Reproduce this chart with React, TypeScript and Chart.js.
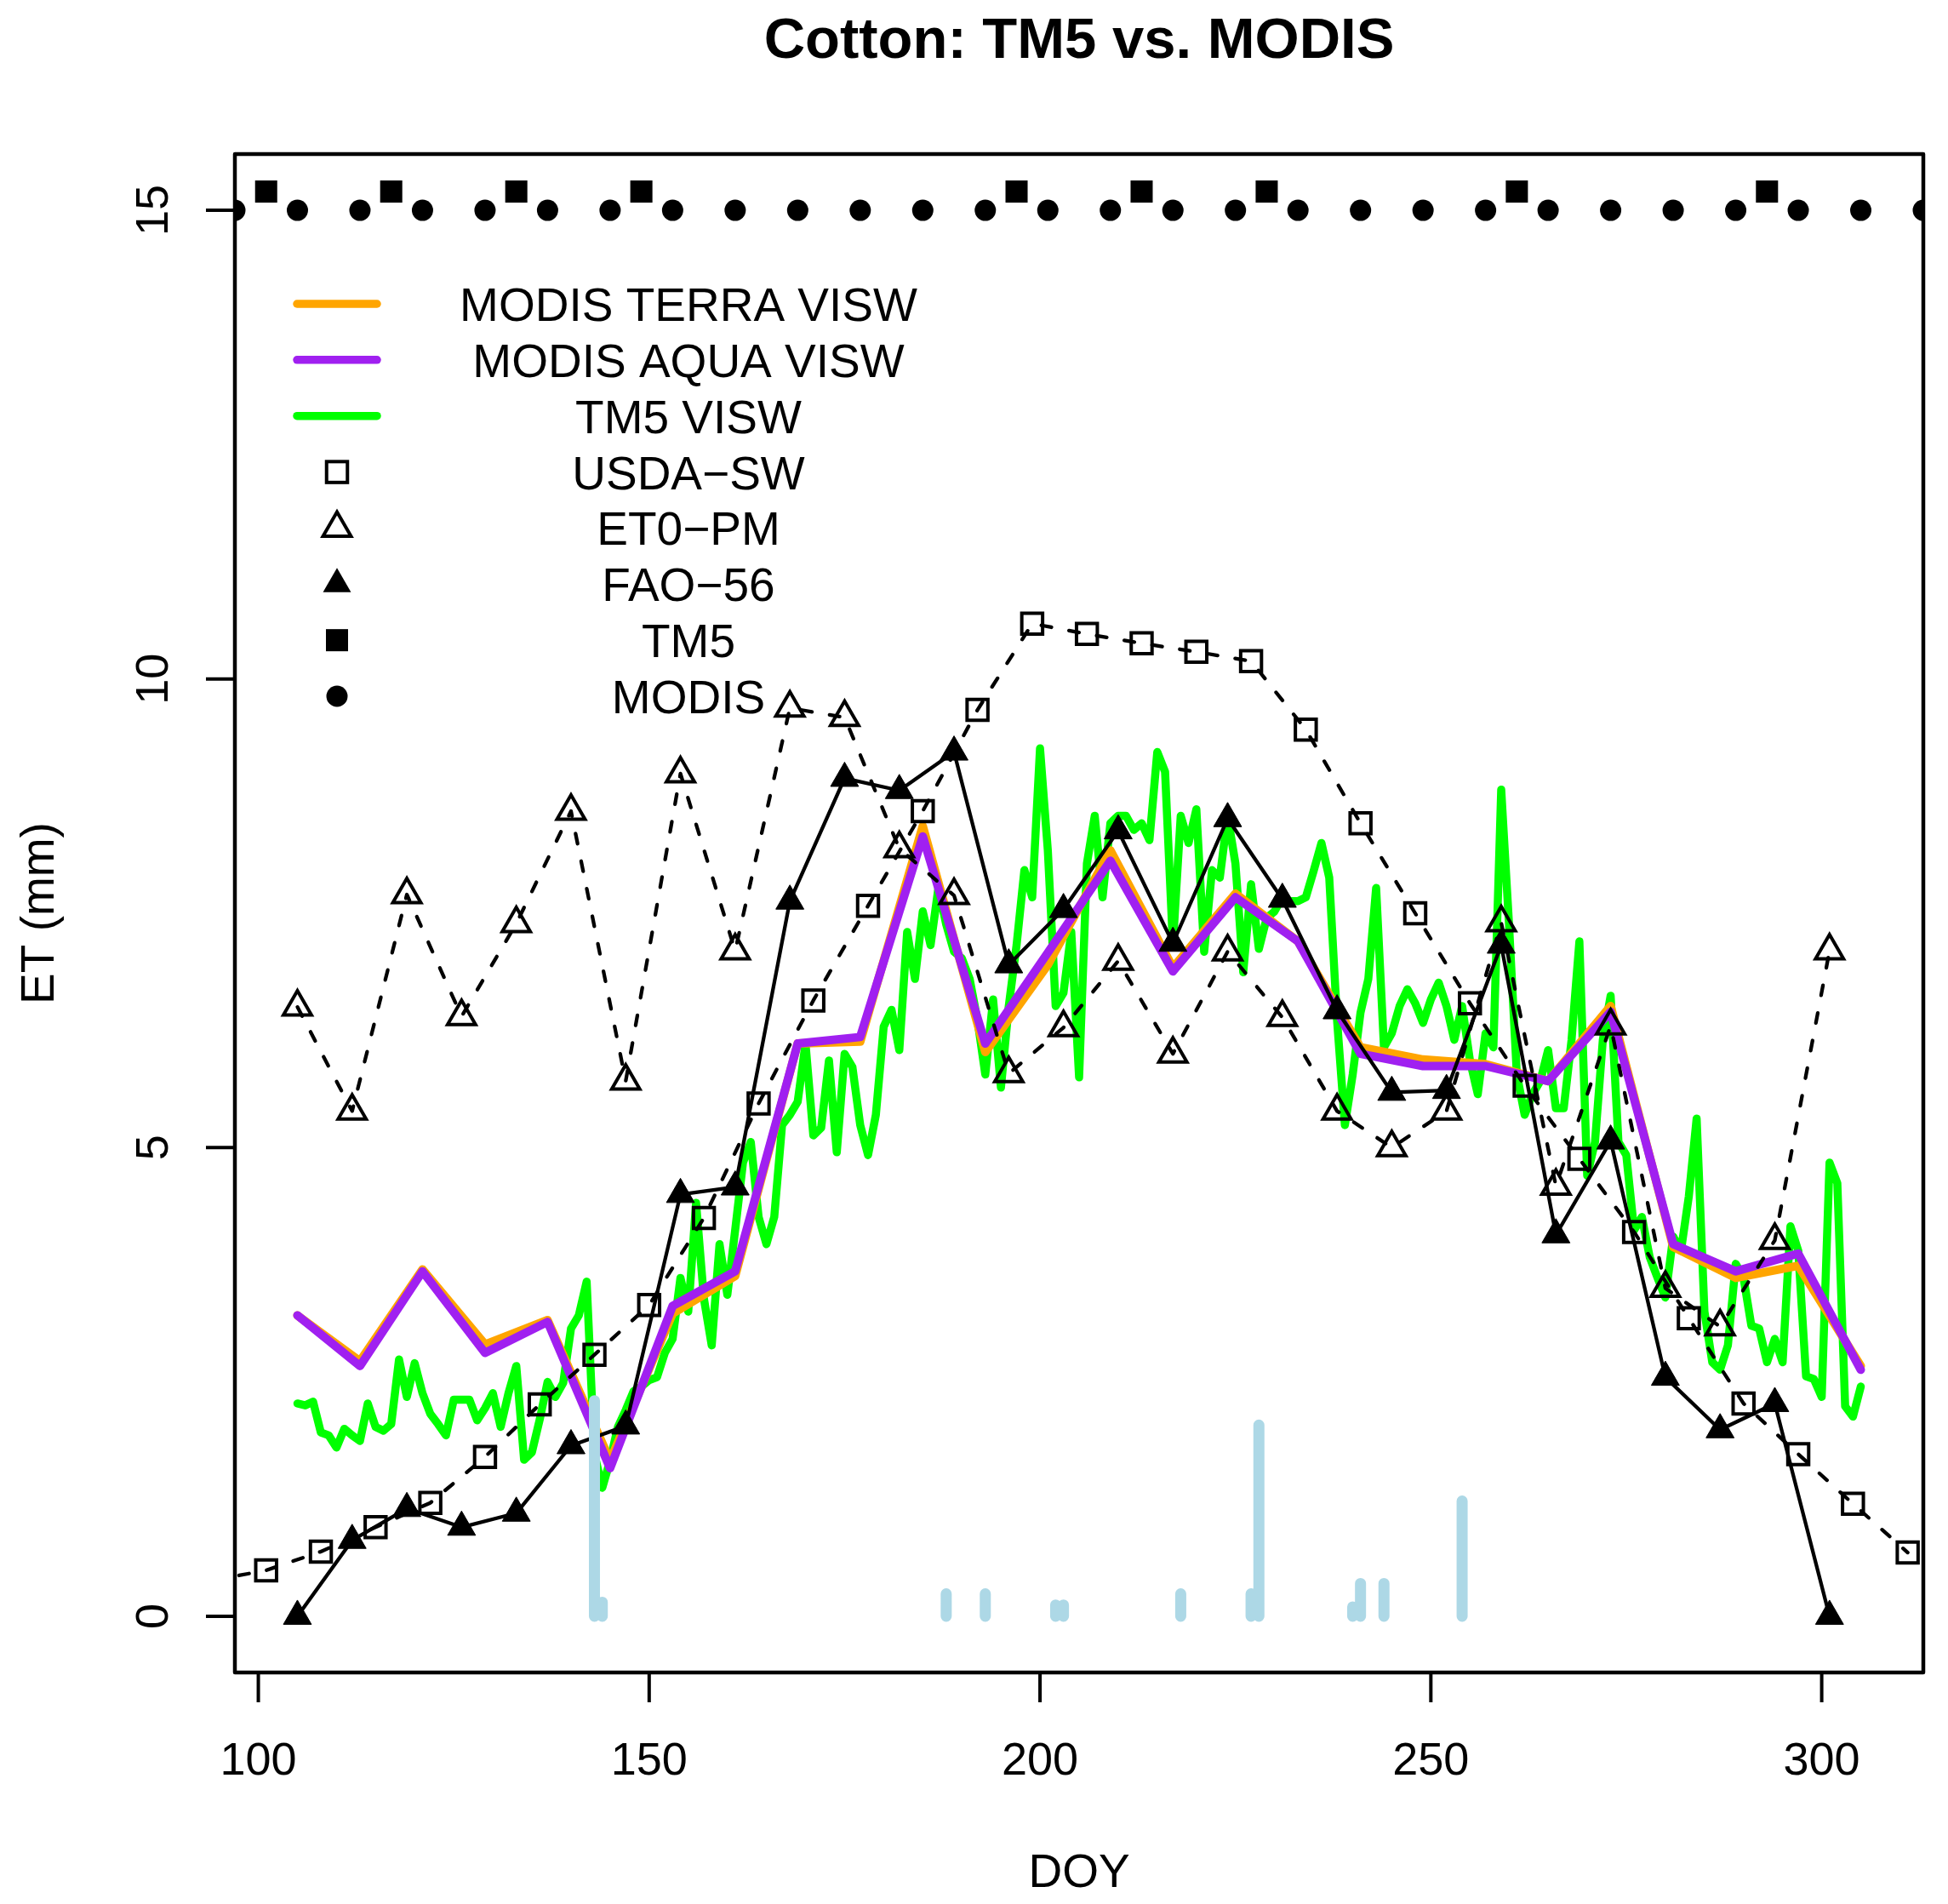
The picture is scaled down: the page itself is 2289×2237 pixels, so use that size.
import React, { useEffect, useRef } from "react";
import { Chart, registerables } from "chart.js";

Chart.register(...registerables);

// ---------- text ----------
const TITLE = "Cotton: TM5 vs. MODIS";
const X_LABEL = "DOY";
const Y_LABEL = "ET (mm)";
const X_TICKS = [100, 150, 200, 250, 300];
const Y_TICKS = [0, 5, 10, 15];

// ---------- MODIS 8-day VISW lines ----------
const MODIS_DAYS = [105, 113, 121, 129, 137, 145, 153, 161, 169, 177, 185, 193, 201, 209, 217, 225, 233, 241, 249, 257, 265, 273, 281, 289, 297, 305];
const MODIS_TERRA_VISW = [3.21, 2.72, 3.7, 2.9, 3.16, 1.66, 3.23, 3.63, 6.11, 6.13, 8.43, 6.02, 6.95, 8.17, 6.92, 7.71, 7.2, 6.07, 5.94, 5.89, 5.71, 6.51, 3.94, 3.61, 3.74, 2.67];
const MODIS_AQUA_VISW = [3.21, 2.67, 3.68, 2.81, 3.14, 1.58, 3.31, 3.68, 6.11, 6.18, 8.32, 6.11, 7.08, 8.06, 6.88, 7.67, 7.2, 6.0, 5.87, 5.87, 5.71, 6.45, 3.97, 3.68, 3.87, 2.63];

// ---------- TM5 VISW daily, DOY 105..305 ----------
const TM5_VISW_FIRST_DAY = 105;
const TM5_VISW = [
  2.27, 2.25, 2.29, 1.96, 1.93, 1.8, 2.0, 1.93, 1.87, 2.27,
  2.02, 1.98, 2.05, 2.74, 2.34, 2.7, 2.38, 2.16, 2.05, 1.93,
  2.31, 2.31, 2.31, 2.09, 2.22, 2.38, 2.02, 2.38, 2.67, 1.67,
  1.75, 2.1, 2.5, 2.34, 2.49, 3.07, 3.21, 3.57, 1.73, 1.37,
  1.66, 2.02, 2.2, 2.4, 2.45, 2.52, 2.55, 2.81, 2.96, 3.61,
  3.25, 4.41, 3.39, 2.89, 3.97, 3.43, 4.12, 4.84, 5.06, 4.26,
  3.97, 4.26, 5.24, 5.35, 5.49, 6.11, 5.13, 5.21, 5.93, 4.95,
  6.0, 5.86, 5.24, 4.92, 5.35, 6.29, 6.47, 6.04, 7.3, 6.8,
  7.52, 7.16, 7.77, 7.38, 7.09, 7.02, 6.8, 6.36, 5.78, 6.58,
  5.64, 6.51, 7.16, 7.96, 7.67, 9.26, 8.17, 6.51, 6.65, 7.3,
  5.75, 8.03, 8.54, 7.67, 8.46, 8.54, 8.54, 8.39, 8.46, 8.28,
  9.22, 9.01, 7.16, 8.54, 8.25, 8.61, 7.09, 7.96, 7.88, 8.54,
  8.03, 6.87, 7.81, 7.12, 7.45, 7.52, 7.67, 7.63, 7.63, 7.67,
  7.95, 8.25, 7.88, 6.36, 5.24, 5.78, 6.44, 6.8, 7.77, 6.07,
  6.22, 6.51, 6.69, 6.54, 6.33, 6.58, 6.76, 6.51, 6.15, 6.51,
  5.93, 5.57, 6.22, 6.07, 8.82, 7.38, 5.78, 5.35, 5.57, 5.71,
  6.04, 5.42, 5.42, 6.15, 7.2, 4.7, 5.06, 6.15, 6.62, 5.06,
  4.92, 4.12, 4.26, 3.83, 3.61, 3.4, 4.05, 3.9, 4.48, 5.31,
  3.25, 2.71, 2.63, 2.89, 3.76, 3.61, 3.1, 3.07, 2.71, 2.96,
  2.71, 4.16, 3.9, 2.56, 2.53, 2.34, 4.84, 4.62, 2.24, 2.13,
  2.45,
];

// ---------- USDA-SW (weekly) ----------
const USDA_DAYS = [94, 101, 108, 115, 122, 129, 136, 143, 150, 157, 164, 171, 178, 185, 192, 199, 206, 213, 220, 227, 234, 241, 248, 255, 262, 269, 276, 283, 290, 297, 304, 311];
const USDA_SW = [0.38, 0.49, 0.69, 0.95, 1.21, 1.7, 2.26, 2.79, 3.32, 4.25, 5.47, 6.57, 7.58, 8.59, 9.67, 10.59, 10.48, 10.38, 10.29, 10.19, 9.46, 8.46, 7.5, 6.54, 5.66, 4.88, 4.1, 3.18, 2.27, 1.73, 1.2, 0.68];

// ---------- ET0-PM and FAO-56 (weekly) ----------
const WEEK_DAYS = [105, 112, 119, 126, 133, 140, 147, 154, 161, 168, 175, 182, 189, 196, 203, 210, 217, 224, 231, 238, 245, 252, 259, 266, 273, 280, 287, 294, 301];
const ET0_PM = [6.5, 5.39, 7.7, 6.4, 7.39, 8.59, 5.71, 8.99, 7.1, 9.69, 9.59, 8.19, 7.69, 5.79, 6.28, 6.99, 6.0, 7.09, 6.39, 5.39, 5.0, 5.39, 7.4, 4.59, 6.3, 3.5, 3.09, 4.01, 7.1];
const FAO_56 = [0.0, 0.81, 1.15, 0.95, 1.1, 1.82, 2.03, 4.5, 4.58, 7.63, 8.94, 8.81, 9.22, 6.95, 7.54, 8.38, 7.18, 8.51, 7.65, 6.46, 5.59, 5.61, 7.16, 4.07, 5.07, 2.55, 1.99, 2.27, 0.0];

// ---------- overpass markers along the top ----------
const TM5_DAYS = [101, 117, 133, 149, 197, 213, 229, 261, 293];
const TM5_MARK_LEVEL = 15.2;
const MODIS_OBS_DAYS = [97, 105, 113, 121, 129, 137, 145, 153, 161, 169, 177, 185, 193, 201, 209, 217, 225, 233, 241, 249, 257, 265, 273, 281, 289, 297, 305, 313];
const MODIS_MARK_LEVEL = 15;

// ---------- water events (light blue spikes) ----------
const WATER_DAYS = [143, 144, 188, 193, 202, 203, 218, 227, 228, 240, 241, 244, 254];
const WATER_MM = [2.3, 0.15, 0.24, 0.24, 0.12, 0.12, 0.24, 0.24, 2.04, 0.1, 0.35, 0.35, 1.23];

// ---------- colours ----------
const ORANGE = "#FFA500";
const PURPLE = "#A020F0";
const GREEN = "#00FF00";
const LIGHTBLUE = "#ADD8E6";

const FONT = '"Liberation Sans", Arial, Helvetica, sans-serif';

type MarkKind = "line" | "openSquare" | "openTriangle" | "filledTriangle" | "filledSquare" | "filledCircle";
const LEGEND_LABELS = ["MODIS TERRA VISW", "MODIS AQUA VISW", "TM5 VISW", "USDA\u2212SW", "ET0\u2212PM", "FAO\u221256", "TM5", "MODIS"];
const LEGEND_KINDS: MarkKind[] = ["line", "line", "line", "openSquare", "openTriangle", "filledTriangle", "filledSquare", "filledCircle"];
const LEGEND_COLORS = [ORANGE, PURPLE, GREEN, "#000", "#000", "#000", "#000", "#000"];

const MARK_STROKE = 4;
const TRI_R = 19;

function pairs(xs: number[], ys: number[]) {
  return xs.map((x, i) => ({ x, y: ys[i] }));
}

function drawMarker(ctx: CanvasRenderingContext2D, kind: MarkKind, x: number, y: number) {
  ctx.save();
  ctx.fillStyle = "#000";
  ctx.strokeStyle = "#000";
  ctx.lineWidth = MARK_STROKE;
  ctx.lineJoin = "miter";
  if (kind === "openSquare" || kind === "filledSquare") {
    const s = kind === "openSquare" ? 24.5 : 26;
    if (kind === "openSquare") ctx.strokeRect(x - s / 2, y - s / 2, s, s);
    else ctx.fillRect(x - s / 2, y - s / 2, s, s);
  } else if (kind === "openTriangle" || kind === "filledTriangle") {
    const r = TRI_R;
    ctx.beginPath();
    ctx.moveTo(x, y - r);
    ctx.lineTo(x + 0.866 * r, y + 0.5 * r);
    ctx.lineTo(x - 0.866 * r, y + 0.5 * r);
    ctx.closePath();
    if (kind === "openTriangle") ctx.stroke();
    else ctx.fill();
  } else if (kind === "filledCircle") {
    ctx.beginPath();
    ctx.arc(x, y, 12.5, 0, Math.PI * 2);
    ctx.fill();
  }
  ctx.restore();
}

const rStylePlugin = {
  id: "rStyle",
  afterDraw(chart: any) {
    const ctx: CanvasRenderingContext2D = chart.ctx;
    const { left, right, top, bottom } = chart.chartArea;
    const xs = chart.scales.x;
    const ys = chart.scales.y;
    const midX = (left + right) / 2;
    const midY = (top + bottom) / 2;
    ctx.save();

    // box
    ctx.strokeStyle = "#000";
    ctx.lineWidth = 4.5;
    ctx.lineJoin = "round";
    ctx.strokeRect(left, top, right - left, bottom - top);

    // ticks
    ctx.lineWidth = 4;
    ctx.lineCap = "butt";
    ctx.beginPath();
    for (const t of X_TICKS) {
      const px = xs.getPixelForValue(t);
      ctx.moveTo(px, bottom);
      ctx.lineTo(px, bottom + 35);
    }
    for (const t of Y_TICKS) {
      const py = ys.getPixelForValue(t);
      ctx.moveTo(left, py);
      ctx.lineTo(left - 34, py);
    }
    ctx.stroke();

    // tick labels
    ctx.fillStyle = "#000";
    ctx.font = `54px ${FONT}`;
    ctx.textAlign = "center";
    ctx.textBaseline = "alphabetic";
    for (const t of X_TICKS) {
      ctx.fillText(String(t), xs.getPixelForValue(t), bottom + 120);
    }
    for (const t of Y_TICKS) {
      const py = ys.getPixelForValue(t);
      ctx.save();
      ctx.translate(left - 79, py);
      ctx.rotate(-Math.PI / 2);
      ctx.fillText(String(t), 0, 0);
      ctx.restore();
    }

    // axis titles
    ctx.font = `55px ${FONT}`;
    ctx.fillText(X_LABEL, midX, bottom + 252);
    ctx.save();
    ctx.translate(63, midY);
    ctx.rotate(-Math.PI / 2);
    ctx.fillText(Y_LABEL, 0, 0);
    ctx.restore();

    // title
    ctx.font = `bold 67px ${FONT}`;
    ctx.fillText(TITLE, midX, 68);

    // legend
    const rowStart = top + 176;
    const rowStep = 65.86;
    const symX = left + 120;
    const textX = left + 533;
    ctx.font = `55px ${FONT}`;
    ctx.textAlign = "center";
    LEGEND_LABELS.forEach((label, i) => {
      const ry = rowStart + i * rowStep;
      const kind = LEGEND_KINDS[i];
      if (kind === "line") {
        ctx.save();
        ctx.strokeStyle = LEGEND_COLORS[i];
        ctx.lineWidth = 9.5;
        ctx.lineCap = "round";
        ctx.beginPath();
        ctx.moveTo(symX - 47, ry);
        ctx.lineTo(symX + 47, ry);
        ctx.stroke();
        ctx.restore();
      } else {
        drawMarker(ctx, kind, symX, ry);
      }
      ctx.fillStyle = "#000";
      ctx.fillText(label, textX, ry + 20);
    });

    ctx.restore();
  },
};

export default function App() {
  const ref = useRef<HTMLCanvasElement>(null);

  useEffect(() => {
    document.body.style.margin = "0";
    const canvas = ref.current;
    if (!canvas) return;

    const waterData: { x: number; y: number | null }[] = [];
    WATER_DAYS.forEach((d, i) => {
      waterData.push({ x: d, y: 0 });
      waterData.push({ x: d, y: WATER_MM[i] });
      waterData.push({ x: d, y: null });
    });

    const greenData = TM5_VISW.map((v, i) => ({ x: TM5_VISW_FIRST_DAY + i, y: v }));

    const common = {
      clip: 0,
      tension: 0,
      borderJoinStyle: "round" as const,
      borderCapStyle: "round" as const,
    };

    const chart = new Chart(canvas, {
      type: "line",
      data: {
        datasets: [
          {
            ...common,
            label: "water",
            data: waterData as any,
            borderColor: LIGHTBLUE,
            borderWidth: 13,
            pointRadius: 0,
            spanGaps: false,
            order: 0,
          },
          {
            ...common,
            label: "TM5",
            data: TM5_DAYS.map((d) => ({ x: d, y: TM5_MARK_LEVEL })),
            showLine: false,
            pointStyle: "rect",
            pointRadius: 18.4,
            pointBorderWidth: 0,
            pointBackgroundColor: "#000",
            pointBorderColor: "#000",
            order: 0,
          },
          {
            ...common,
            label: "MODIS",
            data: MODIS_OBS_DAYS.map((d) => ({ x: d, y: MODIS_MARK_LEVEL })),
            showLine: false,
            pointStyle: "circle",
            pointRadius: 12.5,
            pointBorderWidth: 0,
            pointBackgroundColor: "#000",
            pointBorderColor: "#000",
            order: 0,
          },
          {
            ...common,
            label: "FAO-56",
            data: pairs(WEEK_DAYS, FAO_56),
            borderColor: "#000",
            borderWidth: 4.3,
            pointStyle: "triangle",
            pointRadius: TRI_R,
            pointBorderWidth: 1,
            pointBackgroundColor: "#000",
            pointBorderColor: "#000",
            order: 1,
          },
          {
            ...common,
            label: "USDA-SW",
            data: pairs(USDA_DAYS, USDA_SW),
            borderColor: "#000",
            borderWidth: 4.3,
            borderDash: [12, 21],
            borderCapStyle: "round",
            pointStyle: "rect",
            pointRadius: 17.3,
            pointBorderWidth: MARK_STROKE,
            pointBackgroundColor: "rgba(0,0,0,0)",
            pointBorderColor: "#000",
            order: 2,
          },
          {
            ...common,
            label: "ET0-PM",
            data: pairs(WEEK_DAYS, ET0_PM),
            borderColor: "#000",
            borderWidth: 4.3,
            borderDash: [12, 21],
            borderCapStyle: "round",
            pointStyle: "triangle",
            pointRadius: TRI_R,
            pointBorderWidth: MARK_STROKE,
            pointBackgroundColor: "rgba(0,0,0,0)",
            pointBorderColor: "#000",
            order: 3,
          },
          {
            ...common,
            label: "MODIS AQUA VISW",
            data: pairs(MODIS_DAYS, MODIS_AQUA_VISW),
            borderColor: PURPLE,
            borderWidth: 10,
            pointRadius: 0,
            order: 4,
          },
          {
            ...common,
            label: "MODIS TERRA VISW",
            data: pairs(MODIS_DAYS, MODIS_TERRA_VISW),
            borderColor: ORANGE,
            borderWidth: 10,
            pointRadius: 0,
            order: 5,
          },
          {
            ...common,
            label: "TM5 VISW",
            data: greenData,
            borderColor: GREEN,
            borderWidth: 9.5,
            pointRadius: 0,
            order: 6,
          },
        ] as any,
      },
      options: {
        animation: false,
        responsive: false,
        devicePixelRatio: 1,
        events: [],
        layout: { padding: { left: 276, top: 181, right: 29, bottom: 272 } },
        plugins: {
          legend: { display: false },
          title: { display: false },
          tooltip: { enabled: false },
        },
        scales: {
          x: { type: "linear", min: 97, max: 313, display: false },
          y: { type: "linear", min: -0.6, max: 15.6, display: false },
        },
      },
      plugins: [rStylePlugin],
    });

    return () => chart.destroy();
  }, []);

  return (
    <canvas
      ref={ref}
      width={2289}
      height={2237}
      style={{ display: "block", width: "2289px", height: "2237px", background: "#fff" }}
    />
  );
}
